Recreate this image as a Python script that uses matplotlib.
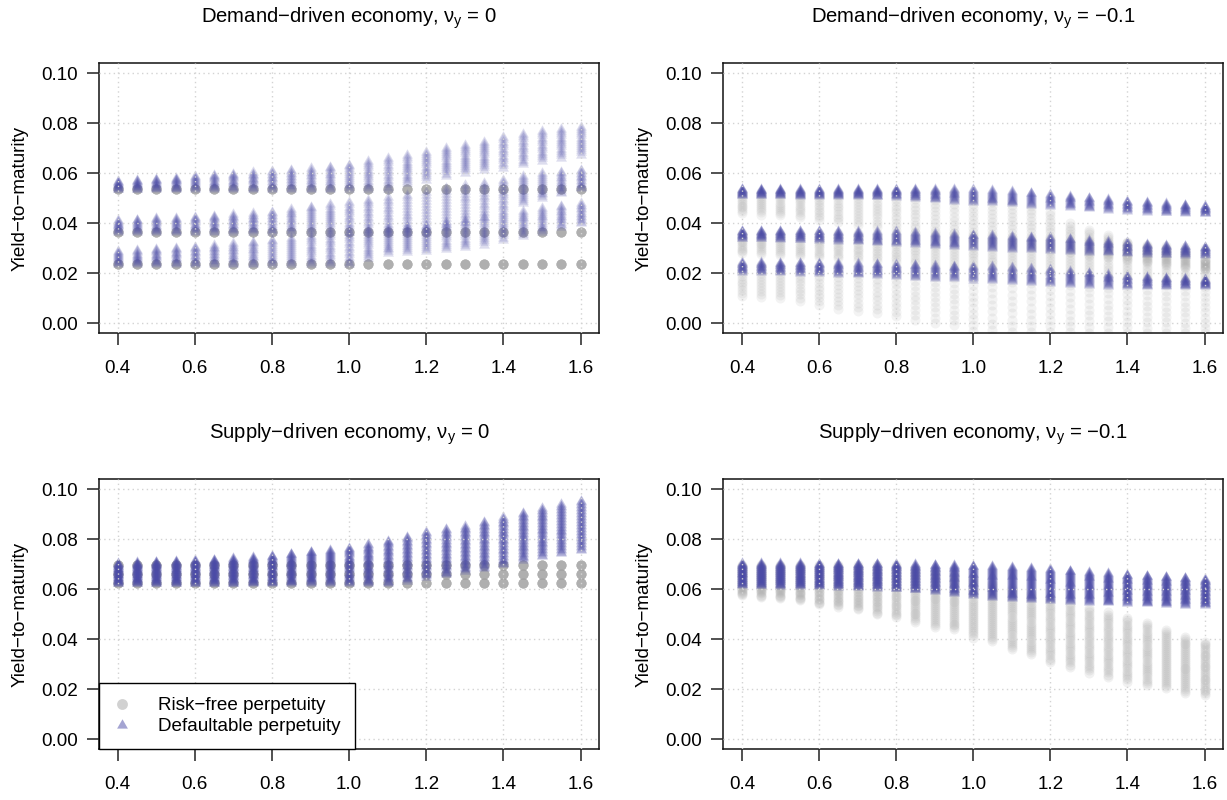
import numpy as np
import matplotlib
matplotlib.use("Agg")
import matplotlib.pyplot as plt
from matplotlib.lines import Line2D

plt.rcParams["font.family"] = ["Liberation Sans", "DejaVu Sans"]
plt.rcParams["mathtext.fontset"] = "custom"
plt.rcParams["mathtext.rm"] = "Liberation Sans"
plt.rcParams["mathtext.it"] = "Liberation Sans"
plt.rcParams["mathtext.bf"] = "Liberation Sans:bold"

# -----------------------------
# Data
# -----------------------------
X = [0.40, 0.45, 0.50, 0.55, 0.60, 0.65, 0.70, 0.75, 0.80, 0.85, 0.90, 0.95, 1.00,
     1.05, 1.10, 1.15, 1.20, 1.25, 1.30, 1.35, 1.40, 1.45, 1.50, 1.55, 1.60]

# panel 1: demand-driven, nu_y = 0
P1_RF = [0.0236, 0.0366, 0.0536]
P1_LOW_LO = [0.0236, 0.0236, 0.0236, 0.0236, 0.0236, 0.0236, 0.0236, 0.0236, 0.0236, 0.0236, 0.0236, 0.0236, 0.0236,
             0.0260, 0.0280, 0.0285, 0.0290, 0.0298, 0.0305, 0.0315, 0.0335, 0.0350, 0.0365, 0.0385, 0.0400]
P1_LOW_HI = [0.0289, 0.0292, 0.0298, 0.0302, 0.0307, 0.0313, 0.0320, 0.0327, 0.0335, 0.0342, 0.0350, 0.0357, 0.0365,
             0.0372, 0.0380, 0.0388, 0.0395, 0.0405, 0.0415, 0.0425, 0.0440, 0.0450, 0.0460, 0.0470, 0.0480]
P1_MID_LO = [0.0366, 0.0366, 0.0366, 0.0366, 0.0366, 0.0366, 0.0366, 0.0366, 0.0366, 0.0366, 0.0366, 0.0366, 0.0366,
             0.0366, 0.0366, 0.0366, 0.0366, 0.0385, 0.0405, 0.0425, 0.0450, 0.0480, 0.0500, 0.0520, 0.0540]
P1_MID_HI = [0.0413, 0.0415, 0.0420, 0.0422, 0.0427, 0.0430, 0.0436, 0.0440, 0.0447, 0.0457, 0.0467, 0.0476, 0.0485,
             0.0495, 0.0505, 0.0515, 0.0527, 0.0540, 0.0552, 0.0563, 0.0575, 0.0590, 0.0600, 0.0607, 0.0613]
P1_TOP_LO = [0.0536, 0.0536, 0.0536, 0.0536, 0.0536, 0.0536, 0.0536, 0.0536, 0.0536, 0.0536, 0.0536, 0.0536, 0.0536,
             0.0536, 0.0536, 0.0560, 0.0575, 0.0590, 0.0603, 0.0615, 0.0623, 0.0636, 0.0650, 0.0663, 0.0675]
P1_TOP_HI = [0.0569, 0.0573, 0.0578, 0.0582, 0.0588, 0.0593, 0.0599, 0.0604, 0.0609, 0.0614, 0.0620, 0.0627, 0.0635,
             0.0650, 0.0663, 0.0673, 0.0687, 0.0703, 0.0713, 0.0727, 0.0745, 0.0758, 0.0770, 0.0778, 0.0785]

# panel 2: demand-driven, nu_y = -0.1
P2_TOP_LO = [0.0513, 0.0512, 0.0512, 0.0511, 0.0510, 0.0510, 0.0509, 0.0508, 0.0507, 0.0502, 0.0496, 0.0490, 0.0487,
             0.0484, 0.0480, 0.0475, 0.0470, 0.0465, 0.0460, 0.0455, 0.0450, 0.0447, 0.0444, 0.0442, 0.0440]
P2_TOP_HI = [0.0537, 0.0537, 0.0537, 0.0537, 0.0537, 0.0537, 0.0537, 0.0537, 0.0537, 0.0537, 0.0537, 0.0537, 0.0537,
             0.0533, 0.0528, 0.0523, 0.0517, 0.0510, 0.0503, 0.0497, 0.0490, 0.0485, 0.0480, 0.0475, 0.0470]
P2_MID_LO = [0.0340, 0.0340, 0.0338, 0.0336, 0.0334, 0.0331, 0.0328, 0.0324, 0.0320, 0.0316, 0.0312, 0.0308, 0.0305,
             0.0302, 0.0299, 0.0296, 0.0293, 0.0290, 0.0287, 0.0284, 0.0280, 0.0278, 0.0276, 0.0274, 0.0273]
P2_MID_HI = [0.0371, 0.0371, 0.0371, 0.0370, 0.0370, 0.0369, 0.0369, 0.0368, 0.0368, 0.0365, 0.0361, 0.0357, 0.0355,
             0.0352, 0.0349, 0.0347, 0.0344, 0.0339, 0.0334, 0.0329, 0.0324, 0.0318, 0.0313, 0.0310, 0.0307]
P2_LOW_LO = [0.0207, 0.0206, 0.0205, 0.0203, 0.0201, 0.0199, 0.0196, 0.0193, 0.0190, 0.0187, 0.0183, 0.0180, 0.0175,
             0.0172, 0.0168, 0.0164, 0.0160, 0.0157, 0.0154, 0.0151, 0.0149, 0.0149, 0.0149, 0.0149, 0.0149]
P2_LOW_HI = [0.0244, 0.0244, 0.0243, 0.0243, 0.0242, 0.0241, 0.0240, 0.0239, 0.0237, 0.0235, 0.0233, 0.0231, 0.0231,
             0.0228, 0.0224, 0.0220, 0.0217, 0.0210, 0.0203, 0.0197, 0.0191, 0.0187, 0.0183, 0.0180, 0.0177]
P2_RF_TOP_LO = [0.0440, 0.0435, 0.0432, 0.0425, 0.0415, 0.0405, 0.0395, 0.0385, 0.0375, 0.0365, 0.0355, 0.0345, 0.0335,
                0.0325, 0.0315, 0.0305, 0.0295, 0.0285, 0.0275, 0.0265, 0.0255, 0.0245, 0.0235, 0.0225, 0.0215]
P2_RF_TOP_HI = [0.0525, 0.0525, 0.0525, 0.0525, 0.0525, 0.0525, 0.0525, 0.0525, 0.0525, 0.0525, 0.0525, 0.0525, 0.0510,
                0.0500, 0.0490, 0.0470, 0.0445, 0.0400, 0.0373, 0.0353, 0.0327, 0.0310, 0.0300, 0.0290, 0.0255]
P2_RF_MID_LO = [0.0280, 0.0278, 0.0273, 0.0270, 0.0265, 0.0260, 0.0255, 0.0250, 0.0245, 0.0240, 0.0235, 0.0230, 0.0225,
                0.0220, 0.0215, 0.0210, 0.0205, 0.0200, 0.0195, 0.0190, 0.0185, 0.0180, 0.0175, 0.0170, 0.0165]
P2_RF_MID_HI = [0.0360, 0.0360, 0.0360, 0.0360, 0.0360, 0.0360, 0.0360, 0.0360, 0.0360, 0.0360, 0.0360, 0.0360, 0.0352,
                0.0348, 0.0345, 0.0342, 0.0340, 0.0335, 0.0330, 0.0325, 0.0320, 0.0314, 0.0309, 0.0306, 0.0303]
P2_RF_LOW_LO = [0.0110, 0.0105, 0.0102, 0.0090, 0.0075, 0.0058, 0.0050, 0.0040, 0.0028, 0.0015, 0.0003, -0.0008, -0.0030,
                -0.0050, -0.0060, -0.0060, -0.0060, -0.0060, -0.0060, -0.0060, -0.0060, -0.0060, -0.0060, -0.0060, -0.0060]
P2_RF_LOW_HI = [0.0235, 0.0235, 0.0234, 0.0234, 0.0233, 0.0232, 0.0231, 0.0230, 0.0228, 0.0226, 0.0224, 0.0222, 0.0221,
                0.0218, 0.0214, 0.0210, 0.0207, 0.0200, 0.0193, 0.0187, 0.0181, 0.0177, 0.0173, 0.0170, 0.0167]

# panel 3: supply-driven, nu_y = 0
P3_RF = [0.0627, 0.0661, 0.0697]
P3_LO = [0.0624, 0.0624, 0.0624, 0.0624, 0.0624, 0.0624, 0.0624, 0.0624, 0.0624, 0.0624, 0.0624, 0.0624, 0.0624,
         0.0624, 0.0624, 0.0635, 0.0650, 0.0660, 0.0675, 0.0685, 0.0700, 0.0718, 0.0733, 0.0744, 0.0757]
P3_HI = [0.0704, 0.0708, 0.0711, 0.0713, 0.0716, 0.0719, 0.0724, 0.0728, 0.0735, 0.0743, 0.0751, 0.0757, 0.0765,
         0.0780, 0.0795, 0.0811, 0.0830, 0.0842, 0.0852, 0.0870, 0.0888, 0.0906, 0.0924, 0.0940, 0.0955]

# panel 4: supply-driven, nu_y = -0.1
P4_LO = [0.0617, 0.0616, 0.0615, 0.0614, 0.0613, 0.0611, 0.0609, 0.0607, 0.0604, 0.0600, 0.0595, 0.0586, 0.0577,
         0.0570, 0.0564, 0.0560, 0.0557, 0.0553, 0.0550, 0.0548, 0.0547, 0.0544, 0.0541, 0.0539, 0.0537]
P4_HI = [0.0704, 0.0704, 0.0704, 0.0704, 0.0703, 0.0703, 0.0703, 0.0702, 0.0702, 0.0700, 0.0699, 0.0697, 0.0695,
         0.0692, 0.0689, 0.0685, 0.0680, 0.0675, 0.0669, 0.0664, 0.0659, 0.0655, 0.0651, 0.0647, 0.0641]
P4_RF_LO = [0.0577, 0.0570, 0.0565, 0.0556, 0.0540, 0.0530, 0.0520, 0.0500, 0.0488, 0.0470, 0.0451, 0.0440, 0.0407,
            0.0393, 0.0360, 0.0340, 0.0309, 0.0290, 0.0267, 0.0250, 0.0231, 0.0217, 0.0204, 0.0187, 0.0177]
P4_RF_HI = [0.0697, 0.0697, 0.0697, 0.0697, 0.0697, 0.0697, 0.0697, 0.0697, 0.0697, 0.0685, 0.0675, 0.0662, 0.0645,
            0.0625, 0.0605, 0.0585, 0.0565, 0.0545, 0.0525, 0.0508, 0.0485, 0.0465, 0.0437, 0.0410, 0.0390]

TITLES = ["Demand\u2212driven economy, $\\nu_y$ = 0",
          "Demand\u2212driven economy, $\\nu_y$ = \u22120.1",
          "Supply\u2212driven economy, $\\nu_y$ = 0",
          "Supply\u2212driven economy, $\\nu_y$ = \u22120.1"]
YLABEL = "Yield\u2212to\u2212maturity"
XTICKS = [0.4, 0.6, 0.8, 1.0, 1.2, 1.4, 1.6]
XTICK_LABELS = ["0.4", "0.6", "0.8", "1.0", "1.2", "1.4", "1.6"]
YTICKS = [0.00, 0.02, 0.04, 0.06, 0.08, 0.10]
YTICK_LABELS = ["0.00", "0.02", "0.04", "0.06", "0.08", "0.10"]
LEGEND_LABELS = ["Risk\u2212free perpetuity", "Defaultable perpetuity"]

GRAY = "#a4a4a4"
BLUE = "#4b4ba6"
FS = 13.6
FS_TITLE = 14.6

# equilateral triangle like R's pch 17 (centred on its centroid)
TRI = [(-1.0, -0.5774), (1.0, -0.5774), (0.0, 1.1547)]


def stack(ax, lo, hi, n, marker, color, alpha):
    # column of semi-transparent markers between lo and hi at every x
    xs, ys = [], []
    for xv, a, b in zip(X, lo, hi):
        xs += [xv] * n
        ys += list(np.linspace(a, b, n))
    size = 52 if marker == "o" else 82
    ax.scatter(xs, ys, s=size, marker=marker, c=color, alpha=alpha,
               linewidths=0, zorder=1)


def level(v):
    return [v] * len(X)


fig = plt.figure(figsize=(12.27, 8), dpi=100)
pos = [[0.0809, 0.5834, 0.4073, 0.3375], [0.5895, 0.5834, 0.4073, 0.3375],
       [0.0809, 0.0634, 0.4073, 0.3375], [0.5895, 0.0634, 0.4073, 0.3375]]
axes = [fig.add_axes(p) for p in pos]

# panel 1
ax = axes[0]
for v in P1_RF:
    stack(ax, level(v), level(v), 12, "o", GRAY, 0.15)
for lo, hi in [(P1_LOW_LO, P1_LOW_HI), (P1_MID_LO, P1_MID_HI), (P1_TOP_LO, P1_TOP_HI)]:
    stack(ax, lo, hi, 14, TRI, BLUE, 0.19)

# panel 2
ax = axes[1]
for lo, hi in [(P2_RF_LOW_LO, P2_RF_LOW_HI), (P2_RF_MID_LO, P2_RF_MID_HI), (P2_RF_TOP_LO, P2_RF_TOP_HI)]:
    stack(ax, lo, hi, 12, "o", GRAY, 0.13)
for lo, hi in [(P2_LOW_LO, P2_LOW_HI), (P2_MID_LO, P2_MID_HI), (P2_TOP_LO, P2_TOP_HI)]:
    stack(ax, lo, hi, 14, TRI, BLUE, 0.22)

# panel 3
ax = axes[2]
for v in P3_RF:
    stack(ax, level(v), level(v), 12, "o", GRAY, 0.15)
stack(ax, P3_LO, P3_HI, 34, TRI, BLUE, 0.28)

# panel 4
ax = axes[3]
stack(ax, P4_RF_LO, P4_RF_HI, 30, "o", GRAY, 0.15)
stack(ax, P4_LO, P4_HI, 34, TRI, BLUE, 0.3)

for ax, title in zip(axes, TITLES):
    ax.set_xlim(0.352, 1.648)
    ax.set_ylim(-0.004, 0.104)
    ax.set_xticks(XTICKS)
    ax.set_xticklabels(XTICK_LABELS)
    ax.set_yticks(YTICKS)
    ax.set_yticklabels(YTICK_LABELS)
    ax.tick_params(axis="both", direction="out", length=8.4, width=1.1,
                   labelsize=FS, color="#222222")
    ax.tick_params(axis="x", pad=11)
    ax.tick_params(axis="y", pad=7)
    for sp in ax.spines.values():
        sp.set_linewidth(1.1)
        sp.set_color("#111111")
    ax.set_axisbelow(False)
    ax.grid(True, color="#d3d3d3", linestyle=(0, (1, 2.4)), linewidth=1.0)
    ax.text(0.5, 1.152, title, transform=ax.transAxes, ha="center",
            va="baseline", fontsize=FS_TITLE)
    ax.text(-0.159, 0.5, YLABEL, transform=ax.transAxes, rotation=90,
            ha="center", va="center", fontsize=FS)

handles = [Line2D([], [], marker="o", ls="none", color=GRAY, alpha=0.5,
                  markersize=7.8, markeredgewidth=0),
           Line2D([], [], marker=TRI, ls="none", color=BLUE, alpha=0.5,
                  markersize=9.0, markeredgewidth=0)]
leg = axes[2].legend(handles, LEGEND_LABELS, loc="lower left", borderaxespad=0,
                     fontsize=FS, fancybox=False, framealpha=1, edgecolor="black",
                     borderpad=0.75, handlelength=0.9, handletextpad=1.45,
                     labelspacing=0.2)
leg.get_frame().set_linewidth(1.0)

fig.savefig("out.png", dpi=100)
